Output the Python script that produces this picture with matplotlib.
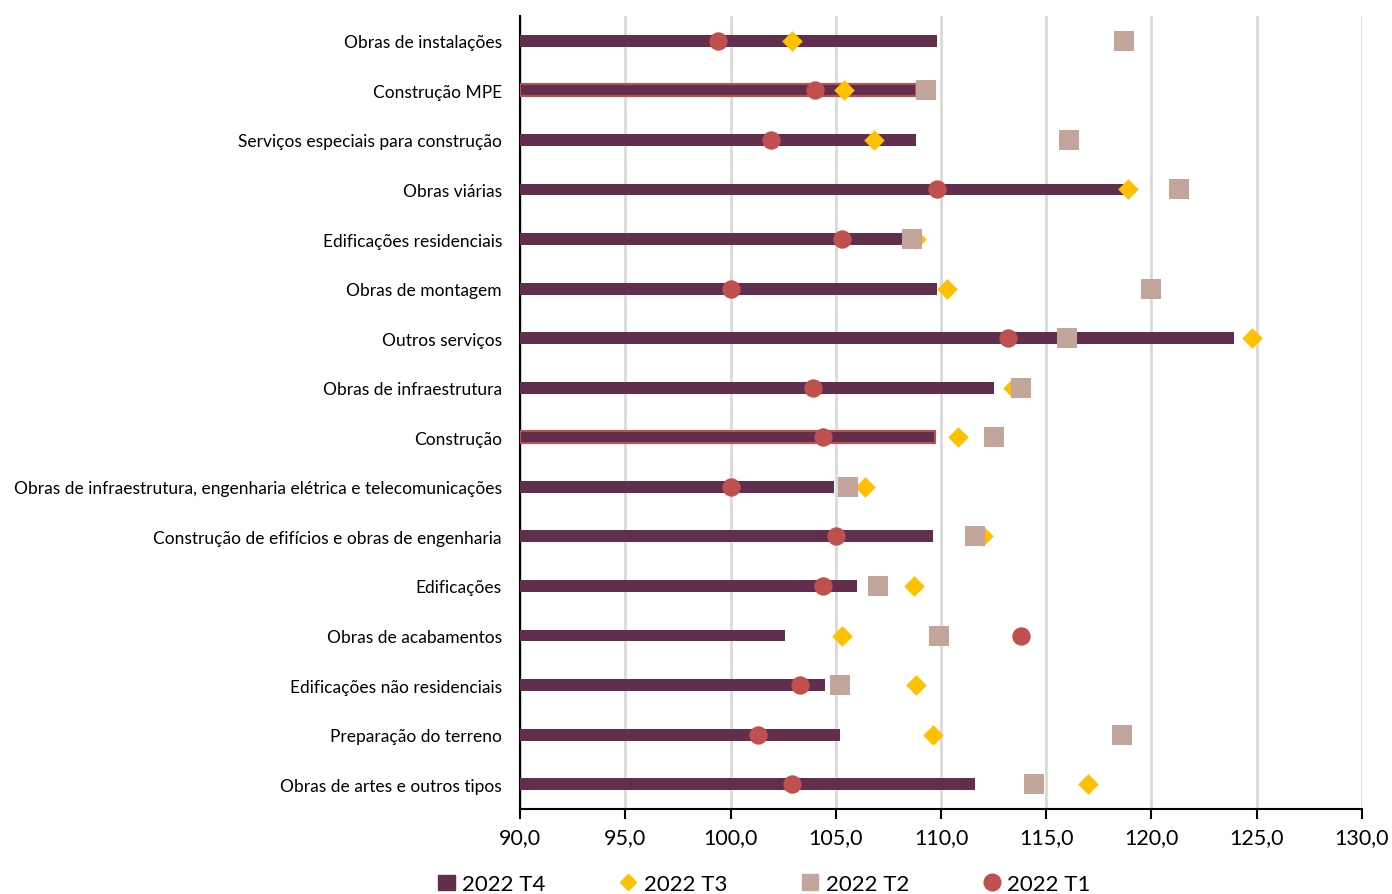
import matplotlib
matplotlib.use("Agg")
import matplotlib.pyplot as plt
from matplotlib.lines import Line2D
from matplotlib.patches import Patch

plt.rcParams['font.family'] = ['Lato', 'DejaVu Sans']

categories = [
    "Obras de instalações",
    "Construção MPE",
    "Serviços especiais para construção",
    "Obras viárias",
    "Edificações residenciais",
    "Obras de montagem",
    "Outros serviços",
    "Obras de infraestrutura",
    "Construção",
    "Obras de infraestrutura, engenharia elétrica e telecomunicações",
    "Construção de efifícios e obras de engenharia",
    "Edificações",
    "Obras de acabamentos",
    "Edificações não residenciais",
    "Preparação do terreno",
    "Obras de artes e outros tipos",
]

t4 = [109.8, 108.8, 108.8, 118.9, 108.3, 109.8, 123.9, 112.5, 109.7, 104.9, 109.6, 106.0, 102.6, 104.5, 105.2, 111.6]
t3 = [102.9, 105.4, 106.8, 118.9, 108.8, 110.3, 124.8, 113.4, 110.8, 106.4, 112.0, 108.7, 105.3, 108.8, 109.6, 117.0]
t2 = [118.7, 109.3, 116.1, 121.3, 108.6, 120.0, 116.0, 113.8, 112.5, 105.6, 111.6, 107.0, 109.9, 105.2, 118.6, 114.4]
t1 = [99.4, 104.0, 101.9, 109.8, 105.3, 100.0, 113.2, 103.9, 104.4, 100.0, 105.0, 104.4, 113.8, 103.3, 101.3, 102.9]

highlighted = ["Construção MPE", "Construção"]

series_labels = ["2022 T4", "2022 T3", "2022 T2", "2022 T1"]
xticks = [90, 95, 100, 105, 110, 115, 120, 125, 130]

c_t4 = "#612E4D"
c_t3 = "#FFC000"
c_t2 = "#C4A59C"
c_t1 = "#C0504D"

fig = plt.figure(figsize=(13.92, 8.95), dpi=100)
ax = fig.add_axes([0.3736, 0.095, 0.6048, 0.886])

base = 90
ypos = list(range(len(categories)))

for i, cat in enumerate(categories):
    hl = cat in highlighted
    ax.barh(i, t4[i] - base, left=base, height=0.24, color=c_t4,
            edgecolor=c_t1 if hl else c_t4, linewidth=1.5 if hl else 0, zorder=3)

ax.scatter(t3, ypos, marker="D", s=110, color=c_t3, zorder=4, linewidths=0)
ax.scatter(t2, ypos, marker="s", s=190, color=c_t2, zorder=5, linewidths=0)
ax.scatter(t1, ypos, marker="o", s=175, color=c_t1, zorder=6, linewidths=0)

ax.set_xlim(90, 130)
ax.set_ylim(len(categories) - 0.5, -0.5)
ax.set_xticks(xticks)
ax.set_xticklabels([f"{v:.1f}".replace(".", ",") for v in xticks], fontsize=15.5)
ax.set_yticks(ypos)
ax.set_yticklabels(categories, fontsize=12.5)
ax.tick_params(axis="y", length=0, pad=13)
ax.tick_params(axis="x", length=7, width=1.5, color="black", pad=6)

ax.grid(axis="x", color="#D9D9D9", linewidth=2, zorder=0)
ax.set_axisbelow(True)
for s in ["top", "right"]:
    ax.spines[s].set_visible(False)
for s in ["left", "bottom"]:
    ax.spines[s].set_color("black")
    ax.spines[s].set_linewidth(1.5)

handles = [
    Patch(facecolor=c_t4, edgecolor=c_t4),
    Line2D([], [], marker="D", linestyle="", color=c_t3, markersize=8),
    Line2D([], [], marker="s", linestyle="", color=c_t2, markersize=11),
    Line2D([], [], marker="o", linestyle="", color=c_t1, markersize=12),
]
fig.legend(handles, series_labels, loc="upper center", bbox_to_anchor=(0.549, 0.032),
           ncol=4, frameon=False, fontsize=16, columnspacing=3.33, handlelength=0.8,
           handletextpad=0.3, borderaxespad=0)

fig.savefig("out.png", dpi=100)
